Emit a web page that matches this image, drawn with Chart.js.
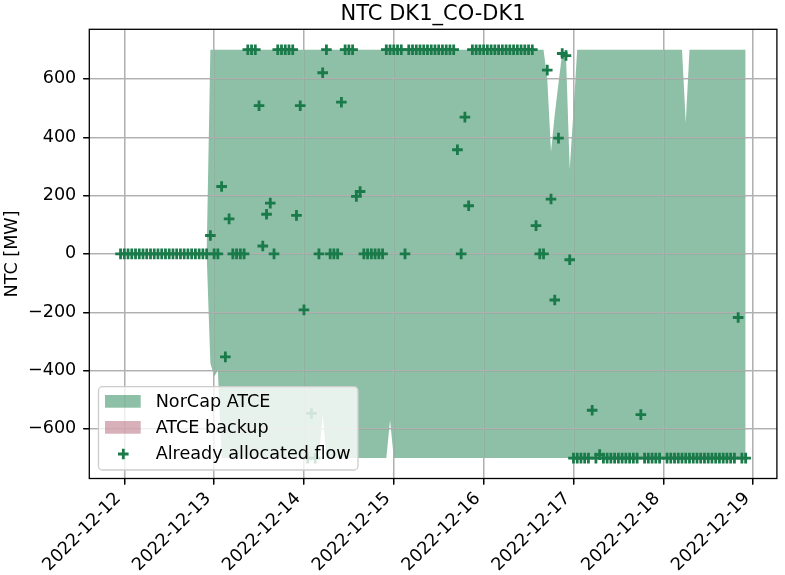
<!DOCTYPE html>
<html>
<head>
<meta charset="utf-8">
<script src="https://cdn.jsdelivr.net/npm/chart.js@4.4.1/dist/chart.umd.min.js"></script>
<style>
  html, body { margin: 0; padding: 0; background: #fff; }
  #wrap { width: 785px; height: 575px; }
</style>
</head>
<body>
<div id="wrap"><canvas id="ntcChart" width="785" height="575"></canvas></div>
<script>
// hourly values, first hour is 2022-12-11 23:00 (one row = 24 hours)
const firstHour = -1; // hours from 2022-12-12 00:00

const allocatedFlow = [
  0, 0, 0, 0, 0, 0, 0, 0, 0, 0, 0, 0, 0, 0, 0, 0, 0, 0, 0, 0, 0, 0, 0, 0,
  63, 0, 0, 231, -353, 120, 0, 0, 0, 0, 700, 700, 700, 508, 27, 136, 174, 0, 700, 700, 700, 700, 700, 132,
  508, -192, -700, -547, -700, 0, 621, 700, 0, 0, 0, 520, 700, 700, 700, 197, 214, 0, 0, 0, 0, 0, 0, 700,
  700, 700, 700, 700, 0, 700, 700, 700, 700, 700, 700, 700, 700, 700, 700, 700, 700, 700, 357, 0, 469, 165, 700, 700,
  700, 700, 700, 700, 700, 700, 700, 700, 700, 700, 700, 700, 700, 700, 700, 97, 0, 0, 630, 188, -158, 397, 687, 680,
  -20, -700, -700, -700, -700, -700, -536, -700, -688, -700, -700, -700, -700, -700, -700, -700, -700, -700, -700, -551, -700, -700, -700, -700,
  -700, null, -700, -700, -700, -700, -700, -700, -700, -700, -700, -700, -700, -700, -700, -700, -700, -700, -700, -700, -700, -218, -700, -700
];

const norcapMax = [
  0, 0, 0, 0, 0, 0, 0, 0, 0, 0, 0, 0, 0, 0, 0, 0, 0, 0, 0, 0, 0, 0, 0, 0,
  700, 700, 700, 700, 700, 700, 700, 700, 700, 700, 700, 700, 700, 700, 700, 700, 700, 700, 700, 700, 700, 700, 700, 700,
  700, 700, 700, 700, 700, 700, 700, 700, 700, 700, 700, 700, 700, 700, 700, 700, 700, 700, 700, 700, 700, 700, 700, 700,
  700, 700, 700, 700, 700, 700, 700, 700, 700, 700, 700, 700, 700, 700, 700, 700, 700, 700, 700, 700, 700, 700, 700, 700,
  700, 700, 700, 700, 700, 700, 700, 700, 700, 700, 700, 700, 700, 700, 700, 700, 700, 700, 600, 350, 478, 585, 690, 680,
  290, 490, 700, 700, 700, 700, 700, 700, 700, 700, 700, 700, 700, 700, 700, 700, 700, 700, 700, 700, 700, 700, 700, 700,
  700, 700, 700, 700, 700, 700, 700, 450, 700, 700, 700, 700, 700, 700, 700, 700, 700, 700, 700, 700, 700, 700, 700, 700
];

const norcapMin = [
  0, 0, 0, 0, 0, 0, 0, 0, 0, 0, 0, 0, 0, 0, 0, 0, 0, 0, 0, 0, 0, 0, 0, 0,
  -375, -420, -400, -700, -700, -700, -700, -700, -700, -700, -700, -700, -700, -700, -700, -700, -700, -700, -700, -700, -700, -700, -700, -700,
  -700, -700, -700, -700, -700, -700, -550, -700, -700, -700, -700, -700, -700, -700, -700, -700, -700, -700, -700, -700, -700, -700, -700, -700,
  -570, -700, -700, -700, -700, -700, -700, -700, -700, -700, -700, -700, -700, -700, -700, -700, -700, -700, -700, -700, -700, -700, -700, -700,
  -700, -700, -700, -700, -700, -700, -700, -700, -700, -700, -700, -700, -700, -700, -700, -700, -700, -700, -700, -700, -700, -700, -700, -700,
  -700, -700, -700, -700, -700, -700, -700, -700, -700, -700, -700, -700, -700, -700, -700, -700, -700, -700, -700, -700, -700, -700, -700, -700,
  -700, -700, -700, -700, -700, -700, -700, -700, -700, -700, -700, -700, -700, -700, -700, -700, -700, -700, -700, -700, -700, -700, -700, -700
];

// ATCE backup has no values in this period
const backupMax = [];

const dayTicks = [0, 24, 48, 72, 96, 120, 144, 168];
const dayLabels = ['2022-12-12', '2022-12-13', '2022-12-14', '2022-12-15',
                   '2022-12-16', '2022-12-17', '2022-12-18', '2022-12-19'];
const yTicks = [-600, -400, -200, 0, 200, 400, 600];

const markerGreen = '#1a7a4a';
const fillGreen = 'rgba(29,128,80,0.5)';
const fillPink = 'rgba(177,97,117,0.5)';
const FONT = '"DejaVu Sans", sans-serif';
const TXT = 17.6;

Chart.defaults.font.family = FONT;

function toPoints(vals) {
  return vals.map((v, i) => ({ x: firstHour + i, y: v }));
}

// grid goes over the fill but under the markers, like matplotlib
const overlayPlugin = {
  id: 'overlay',
  beforeDatasetDraw(chart, args) {
    if (args.index === 3) {
      chart.scales.x.drawGrid(chart.chartArea);
      chart.scales.y.drawGrid(chart.chartArea);
    }
  },
  afterDraw(chart) {
    const ctx = chart.ctx;
    const a = chart.chartArea;
    ctx.save();
    // spines
    ctx.strokeStyle = '#000';
    ctx.lineWidth = 1.3;
    ctx.strokeRect(a.left, a.top, a.right - a.left, a.bottom - a.top);

    // title
    ctx.fillStyle = '#000';
    ctx.font = '21px ' + FONT;
    ctx.textAlign = 'center';
    ctx.textBaseline = 'alphabetic';
    ctx.fillText('NTC DK1_CO-DK1', (a.left + a.right) / 2, 20);

    // legend box
    const bx = 98.5, by = 386.7, bw = 259.5, bh = 83.3, r = 4;
    ctx.beginPath();
    ctx.moveTo(bx + r, by);
    ctx.arcTo(bx + bw, by, bx + bw, by + bh, r);
    ctx.arcTo(bx + bw, by + bh, bx, by + bh, r);
    ctx.arcTo(bx, by + bh, bx, by, r);
    ctx.arcTo(bx, by, bx + bw, by, r);
    ctx.closePath();
    ctx.fillStyle = 'rgba(255,255,255,0.8)';
    ctx.fill();
    ctx.strokeStyle = '#cccccc';
    ctx.lineWidth = 1.3;
    ctx.stroke();

    ctx.fillStyle = fillGreen;
    ctx.fillRect(105, 395, 35.7, 12.7);
    ctx.fillStyle = fillPink;
    ctx.fillRect(105, 421, 35.7, 12.7);

    ctx.strokeStyle = markerGreen;
    ctx.lineWidth = 2.8;
    ctx.beginPath();
    ctx.moveTo(118, 454); ctx.lineTo(128.6, 454);
    ctx.moveTo(123.3, 448.7); ctx.lineTo(123.3, 459.3);
    ctx.stroke();

    ctx.fillStyle = '#000';
    ctx.font = TXT + 'px ' + FONT;
    ctx.textAlign = 'left';
    ctx.fillText('NorCap ATCE', 155.7, 406.6);
    ctx.fillText('ATCE backup', 155.7, 432.9);
    ctx.fillText('Already allocated flow', 155.7, 459.2);
    ctx.restore();
  }
};

const gridOpts = { color: '#b0b0b0', lineWidth: 1.3, tickColor: '#000', tickWidth: 1.3, tickLength: 6 };

new Chart(document.getElementById('ntcChart'), {
  type: 'line',
  data: {
    datasets: [
      {
        label: 'NorCap min',
        data: toPoints(norcapMin),
        borderColor: 'rgba(0,0,0,0)',
        borderWidth: 0,
        pointRadius: 0,
        tension: 0,
        fill: false,
        order: 1
      },
      {
        label: 'NorCap ATCE',
        data: toPoints(norcapMax),
        borderColor: 'rgba(0,0,0,0)',
        borderWidth: 0,
        backgroundColor: fillGreen,
        pointRadius: 0,
        tension: 0,
        fill: '-1',
        order: 1
      },
      {
        label: 'ATCE backup',
        data: toPoints(backupMax),
        borderColor: 'rgba(0,0,0,0)',
        backgroundColor: fillPink,
        pointRadius: 0,
        fill: false,
        order: 1
      },
      {
        label: 'Already allocated flow',
        type: 'scatter',
        data: toPoints(allocatedFlow),
        pointStyle: 'cross',
        pointRadius: 5.3,
        pointBorderWidth: 2.8,
        borderColor: markerGreen,
        backgroundColor: markerGreen,
        order: 0
      }
    ]
  },
  options: {
    responsive: false,
    animation: false,
    devicePixelRatio: 1,
    layout: { padding: { top: 29.3, right: 3, left: 0, bottom: 0 } },
    plugins: {
      legend: { display: false },
      tooltip: { enabled: false },
      title: { display: false }
    },
    scales: {
      x: {
        type: 'linear',
        min: -9.35,
        max: 174.35,
        afterBuildTicks: s => { s.ticks = dayTicks.map(v => ({ value: v })); },
        afterFit: s => { s.height = 96.5; },
        ticks: {
          callback: (v, i) => dayLabels[i],
          autoSkip: false,
          minRotation: 45,
          maxRotation: 45,
          padding: 4,
          labelOffset: -6,
          color: '#000',
          font: { size: TXT }
        },
        grid: gridOpts,
        border: { display: false }
      },
      y: {
        min: -770,
        max: 770,
        afterBuildTicks: s => { s.ticks = yTicks.map(v => ({ value: v })); },
        afterFit: s => { s.width = 89.3; },
        ticks: {
          callback: v => (v < 0 ? '\u2212' + Math.abs(v) : String(v)),
          padding: 7,
          color: '#000',
          font: { size: TXT }
        },
        grid: gridOpts,
        border: { display: false },
        title: {
          display: true,
          text: 'NTC [MW]',
          color: '#000',
          font: { size: TXT },
          padding: { top: 1.5, bottom: 0 }
        }
      }
    }
  },
  plugins: [overlayPlugin]
});
</script>
</body>
</html>
